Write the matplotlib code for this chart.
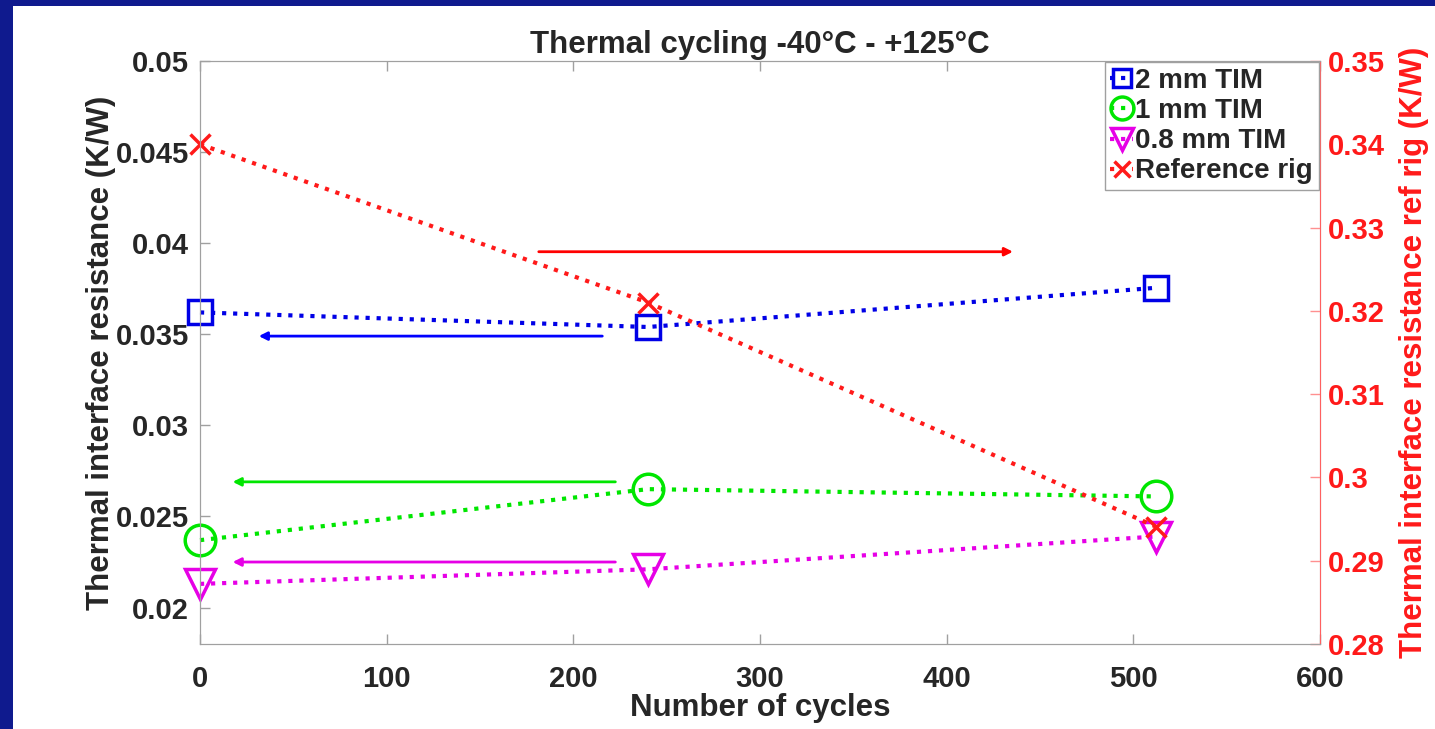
import matplotlib
matplotlib.use('Agg')
import matplotlib.pyplot as plt
from matplotlib.patches import Rectangle

plt.rcParams['font.family'] = ['Liberation Sans', 'DejaVu Sans']
plt.rcParams['font.weight'] = 'bold'
plt.rcParams['axes.labelweight'] = 'bold'
plt.rcParams['axes.titleweight'] = 'bold'

# data
cycles = [0, 240, 512]
tim_2mm = [0.0362, 0.0354, 0.03755]
tim_1mm = [0.0237, 0.0265, 0.0261]
tim_08mm = [0.0213, 0.0221, 0.0239]
ref_rig = [0.340, 0.321, 0.2941]

x_ticks = [0, 100, 200, 300, 400, 500, 600]
left_ticks = [0.02, 0.025, 0.03, 0.035, 0.04, 0.045, 0.05]
left_labels = ['0.02', '0.025', '0.03', '0.035', '0.04', '0.045', '0.05']
right_ticks = [0.28, 0.29, 0.30, 0.31, 0.32, 0.33, 0.34, 0.35]
right_labels = ['0.28', '0.29', '0.3', '0.31', '0.32', '0.33', '0.34', '0.35']

# arrows pointing to the axis each group belongs to: (x_start, x_end, y, color, axis)
arrows = [
    (180, 437, 0.3271, 'red', 'right'),
    (217, 30, 0.0349, 'blue', 'left'),
    (224, 16, 0.0269, '#00e600', 'left'),
    (224, 16, 0.0225, '#e600e6', 'left'),
]

navy = '#0f1a8e'
gray = '#262626'

fig = plt.figure(figsize=(14.35, 7.29), dpi=100, facecolor=navy)
fig.patches.append(Rectangle((13 / 1435, 0), 1 - 13 / 1435, 1 - 6 / 729,
                             transform=fig.transFigure, facecolor='white',
                             edgecolor='none', zorder=-10))

ax = fig.add_axes([200 / 1435, 1 - 644 / 729, 1120 / 1435, 583 / 729])
ax2 = ax.twinx()

ms_kw = dict(linestyle=':', linewidth=3, markeredgewidth=2.5,
             markerfacecolor='none', clip_on=False)
l1, = ax.plot(cycles, tim_2mm, color='#0000e6', marker='s', markersize=17,
              label='2 mm TIM', **ms_kw)
l2, = ax.plot(cycles, tim_1mm, color='#00e600', marker='o', markersize=22,
              label='1 mm TIM', **ms_kw)
l3, = ax.plot(cycles, tim_08mm, color='#e600e6', marker='v', markersize=22,
              label='0.8 mm TIM', **ms_kw)
l4, = ax2.plot(cycles, ref_rig, color='#ff1a1a', marker='x', markersize=15,
               label='Reference rig', **ms_kw)

for xs, xe, y, c, side in arrows:
    a = ax2 if side == 'right' else ax
    a.annotate('', xy=(xe, y), xytext=(xs, y),
               arrowprops=dict(arrowstyle='-|>', color=c, lw=2,
                               mutation_scale=12))

ax.set_xlim(0, 600)
ax.set_ylim(0.018, 0.05)
ax2.set_ylim(0.28, 0.35)

ax.set_xticks(x_ticks)
ax.set_yticks(left_ticks)
ax.set_yticklabels(left_labels)
ax2.set_yticks(right_ticks)
ax2.set_yticklabels(right_labels)

for a in (ax, ax2):
    a.tick_params(direction='in', length=7, width=1, labelsize=21)
    for s in a.spines.values():
        s.set_color('#a0a0a0')
ax.tick_params(colors='#a0a0a0', labelcolor=gray, top=True)
ax.tick_params(axis='x', pad=15)
ax.tick_params(axis='y', pad=8)
ax2.tick_params(axis='y', colors='#ff9090', labelcolor='#ff1a1a', pad=6)
ax2.spines['right'].set_color('#ff6060')

ax.set_xlabel('Number of cycles', fontsize=22.5, color=gray, labelpad=0)
ax.set_ylabel('Thermal interface resistance (K/W)', fontsize=22.5, color=gray,
              labelpad=0)
ax2.set_ylabel('Thermal interface resistance ref rig (K/W)', fontsize=22.5,
               color='#ff1a1a', labelpad=10)
ax.set_title('Thermal cycling -40\u00b0C - +125\u00b0C', fontsize=22.5,
             color=gray, pad=6)

leg = ax2.legend(handles=[l1, l2, l3, l4], loc='upper right', fontsize=20,
                 handlelength=0.8, handletextpad=0.1, borderpad=0.2,
                 labelspacing=0.15, borderaxespad=0.05, fancybox=False,
                 markerscale=0.75, framealpha=1)
leg.get_frame().set_edgecolor('#a0a0a0')
for t in leg.get_texts():
    t.set_color(gray)

fig.savefig('out.png', dpi=100, facecolor=navy)
